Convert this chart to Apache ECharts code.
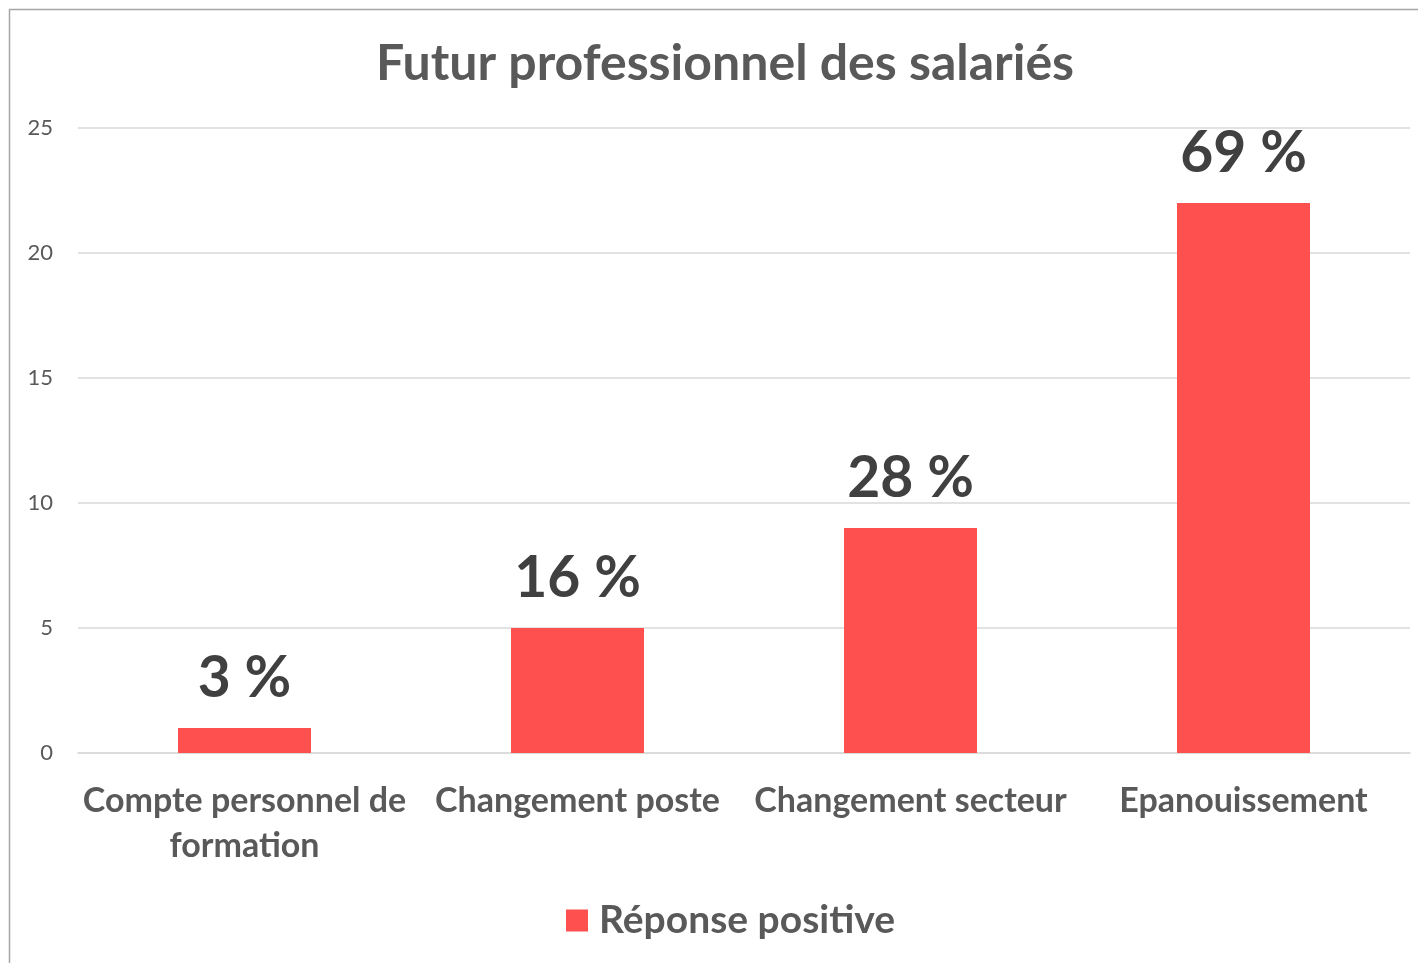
<!DOCTYPE html>
<html>
<head>
  <meta charset="UTF-8">
  <script src="https://cdnjs.cloudflare.com/ajax/libs/echarts/6.0.0/echarts.min.js"></script>
  <title>Futur professionnel des salariés</title>
  <style>
    html, body { margin: 0; padding: 0; background: #fff; }
    #chart { width: 1418px; height: 963px; }
  </style>
</head>
<body>
  <div id="chart"></div>
  <script>
    // data
    const categories = ['Compte personnel de\nformation', 'Changement poste', 'Changement secteur', 'Epanouissement'];
    const counts = [1, 5, 9, 22];
    const percentLabels = ['3 %', '16 %', '28 %', '69 %'];
    const seriesName = 'Réponse positive';

    const font = 'Lato';
    const chart = echarts.init(document.getElementById('chart'));
    chart.setOption({
      animation: false,
      textStyle: { fontFamily: font },
      title: {
        text: 'Futur professionnel des salariés',
        left: 720,
        textAlign: 'center',
        top: 34,
        textStyle: { fontSize: 50, fontWeight: 'bold', color: '#595959', fontFamily: font }
      },
      graphic: [{
        type: 'rect',
        shape: { x: 9.5, y: 9.5, width: 1500, height: 1000 },
        style: { fill: 'none', stroke: '#a6a6a6', lineWidth: 1.5 },
        silent: true
      }],
      legend: {
        data: [seriesName],
        left: 561,
        top: 896,
        itemWidth: 22,
        itemHeight: 22,
        icon: 'rect',
        textStyle: { fontSize: 39, fontWeight: 'bold', color: '#595959', fontFamily: font, padding: [0, 0, 0, 6] }
      },
      grid: { left: 78, right: 8, top: 128, bottom: 210, containLabel: false },
      xAxis: {
        type: 'category',
        data: categories,
        axisLine: { lineStyle: { color: '#d9d9d9', width: 1.5 } },
        axisTick: { show: false },
        axisLabel: {
          interval: 0,
          margin: 26,
          fontSize: 34,
          lineHeight: 45,
          fontWeight: 'bold',
          color: '#595959',
          fontFamily: font
        }
      },
      yAxis: {
        type: 'value',
        min: 0,
        max: 25,
        interval: 5,
        axisLine: { show: false },
        axisTick: { show: false },
        splitLine: { lineStyle: { color: '#d9d9d9', width: 1.5 } },
        axisLabel: { fontSize: 22, color: '#595959', margin: 25, fontFamily: font }
      },
      series: [{
        name: seriesName,
        type: 'bar',
        data: counts,
        barWidth: 133,
        itemStyle: { color: '#ff5050' },
        label: {
          show: true,
          position: 'top',
          distance: 21,
          formatter: p => percentLabels[p.dataIndex],
          fontSize: 57,
          fontWeight: 'bold',
          color: '#404040',
          fontFamily: font
        }
      }]
    });
  </script>
</body>
</html>
